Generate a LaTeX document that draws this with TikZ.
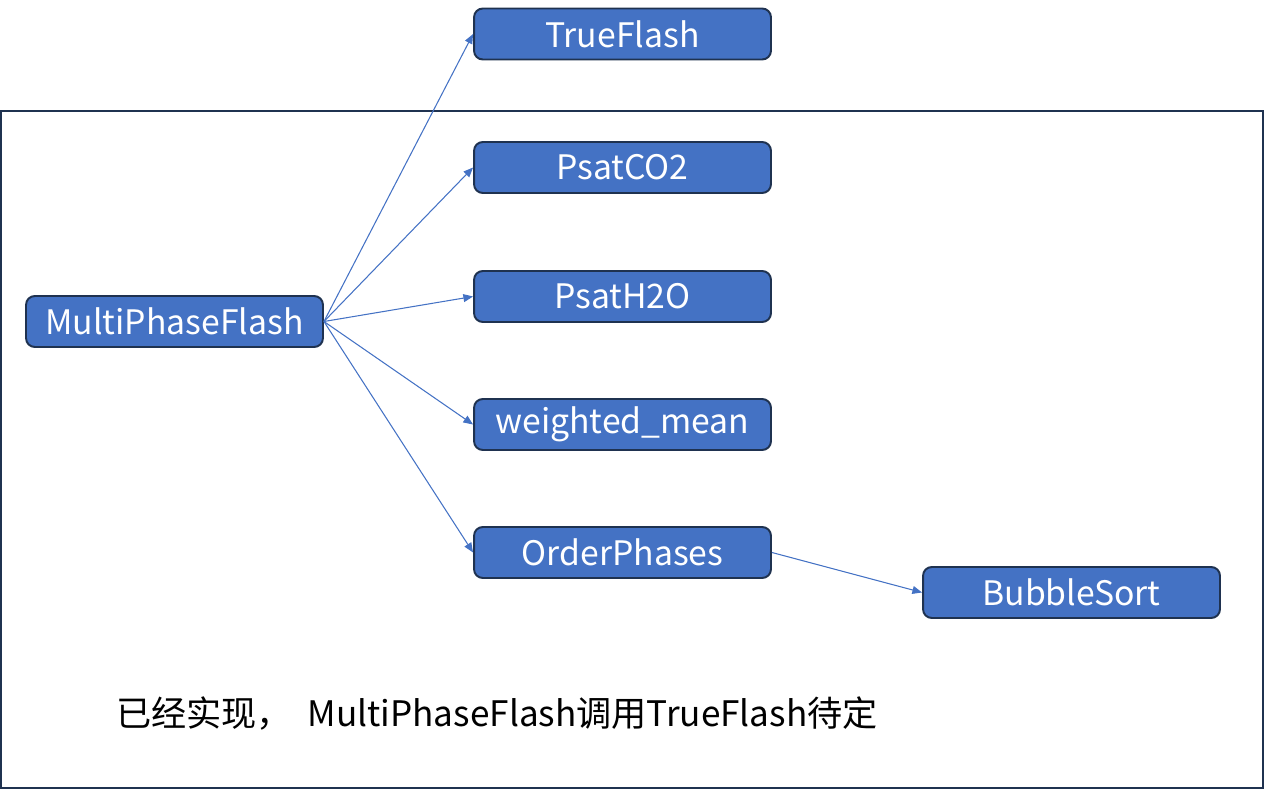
\documentclass[tikz,border=0pt]{standalone}
\usepackage{fontspec}
\setmainfont{Noto Sans CJK SC}
\usetikzlibrary{arrows.meta}
\definecolor{boxblue}{RGB}{68,114,196}
\definecolor{boxedge}{RGB}{31,50,80}

\begin{document}
\begin{tikzpicture}[x=0.02cm,y=-0.02cm,
  func/.style={draw=boxedge,line width=1.1pt,fill=boxblue,rounded corners=5pt,
    minimum width=5.94cm,minimum height=1.02cm,inner sep=0pt,
    text=white,font=\fontsize{19.2}{23}\selectfont},
  call/.style={-{Triangle[length=5.5pt,width=4.5pt]},boxblue,line width=0.6pt}]
\useasboundingbox (0,0) rectangle (1265,790);
% Frame round the finished part
\draw[boxedge,line width=1.2pt] (1,111) rectangle (1263,788);
% Functions
\node[func] (multi) at (174.5,321.5) {MultiPhaseFlash};
\node[func] (true) at (622.5,34) {TrueFlash};
\node[func] (co2) at (622.5,167.5) {PsatCO2};
\node[func] (h2o) at (622.5,296.5) {PsatH2O};
\node[func] (wmean) at (622.5,424.5) {weighted\_mean};
\node[func] (order) at (622.5,552.5) {OrderPhases};
\node[func] (bubble) at (1071.5,592.5) {BubbleSort};
% Calls
\foreach \n in {true,co2,h2o,wmean,order} {\draw[call] (multi.east) -- (\n.west);}
\draw[call] (order.east) -- (bubble.west);
% Note
\node[font=\fontsize{20}{24}\selectfont] (note) at (497,713) {已经实现，\ \ MultiPhaseFlash调用TrueFlash待定};
\end{tikzpicture}
\end{document}
